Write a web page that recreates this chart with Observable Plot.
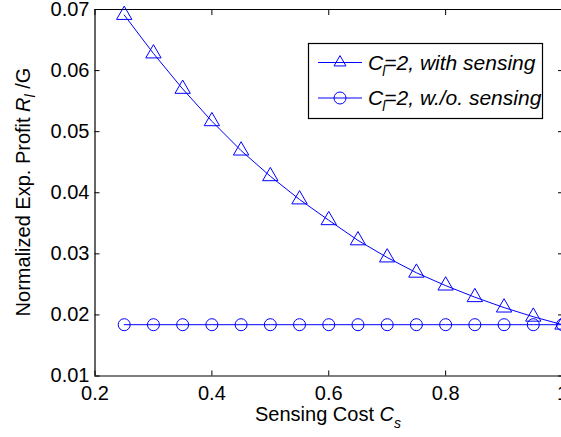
<!DOCTYPE html>
<html>
<head>
<meta charset="utf-8">
<script src="https://cdn.jsdelivr.net/npm/d3@7"></script>
<script src="https://cdn.jsdelivr.net/npm/@observablehq/plot@0.6"></script>
<style>
  html, body { margin: 0; padding: 0; background: #fff; }
  #chart { width: 561px; height: 437px; overflow: hidden; }
</style>
</head>
<body>
<div id="chart"></div>
<script>
// Data
const sensingCost = [0.25, 0.30, 0.35, 0.40, 0.45, 0.50, 0.55, 0.60, 0.65, 0.70, 0.75, 0.80, 0.85, 0.90, 0.95, 1.00];
const withSensing = [0.0691, 0.0628, 0.0570, 0.0517, 0.0469, 0.0427, 0.0389, 0.0355, 0.0322, 0.0294, 0.0269, 0.0248, 0.0229, 0.0212, 0.0197, 0.0184];
const withoutSensing = [0.0184, 0.0184, 0.0184, 0.0184, 0.0184, 0.0184, 0.0184, 0.0184, 0.0184, 0.0184, 0.0184, 0.0184, 0.0184, 0.0184, 0.0184, 0.0184];
const xTicks = [0.2, 0.4, 0.6, 0.8, 1.0];
const yTicks = [0.01, 0.02, 0.03, 0.04, 0.05, 0.06, 0.07];
const legendLabels = ["=2, with sensing", "=2, w./o. sensing"];

const rows = sensingCost.map((c, i) => ({c, w: withSensing[i], wo: withoutSensing[i]}));
const blue = "#0000ff";
const font = "'Liberation Sans', Arial, Helvetica, sans-serif";

const plot = Plot.plot({
  width: 561,
  height: 437,
  marginLeft: 94.5,
  marginRight: -1,
  marginTop: 9,
  marginBottom: 61.5,
  style: {fontFamily: font, fontSize: "20px", background: "#fff", color: "#000"},
  x: {domain: [0.2, 1.0], range: [94.5, 562]},
  y: {domain: [0.01, 0.07], range: [375.5, 9]},
  marks: [
    Plot.ruleX([0.2], {stroke: "#000", strokeWidth: 1.2}),
    Plot.ruleY([0.01, 0.07], {stroke: "#000", strokeWidth: 1.2}),
    Plot.axisX(xTicks, {anchor: "bottom", tickSize: -5, tickPadding: 14.5, label: null,
      tickFormat: d => d === 1 ? "1" : d.toFixed(1), fontSize: 20}),
    Plot.axisX(xTicks, {anchor: "top", tickSize: -5, label: null, tickFormat: () => ""}),
    Plot.axisY(yTicks, {anchor: "left", tickSize: -5, tickPadding: 10.5, label: null,
      tickFormat: d3.format(".2f"), fontSize: 20}),
    Plot.axisY(yTicks, {anchor: "right", tickSize: -5, label: null, tickFormat: () => ""}),
    Plot.line(rows, {x: "c", y: "wo", stroke: blue, strokeWidth: 1}),
    Plot.line(rows, {x: "c", y: "w", stroke: blue, strokeWidth: 1}),
    Plot.dot(rows, {x: "c", y: "w", symbol: "triangle", r: 5.7, stroke: blue, fill: "none", strokeWidth: 1}),
    Plot.dot(rows, {x: "c", y: "wo", symbol: "circle", r: 6, stroke: blue, fill: "none", strokeWidth: 1})
  ]
});
document.getElementById("chart").appendChild(plot);

const svg = d3.select(plot);

// Y axis label
const yl = svg.append("text")
  .attr("transform", "translate(30,192) rotate(-90)")
  .attr("text-anchor", "middle")
  .attr("font-family", font).attr("font-size", 20).attr("fill", "#000");
yl.append("tspan").text("Normalized Exp. Profit ");
yl.append("tspan").attr("font-style", "italic").text("R");
yl.append("tspan").attr("font-style", "italic").attr("font-size", 14).attr("dy", 5).text("l");
yl.append("tspan").attr("dy", -5).text(" /G");

// X axis label
const xl = svg.append("text")
  .attr("x", 328).attr("y", 421)
  .attr("text-anchor", "middle")
  .attr("font-family", font).attr("font-size", 20).attr("fill", "#000");
xl.append("tspan").text("Sensing Cost ");
xl.append("tspan").attr("font-style", "italic").text("C");
xl.append("tspan").attr("font-style", "italic").attr("font-size", 14).attr("dy", 7).text("s");

// Legend
const lg = svg.append("g");
lg.append("rect").attr("x", 308.5).attr("y", 43.5).attr("width", 234).attr("height", 75)
  .attr("fill", "#fff").attr("stroke", "#000").attr("stroke-width", 1.2);
const entries = [
  {y: 62.5, sym: d3.symbolTriangle2, size: Math.PI * 5.7 * 5.7, label: legendLabels[0]},
  {y: 98, sym: d3.symbolCircle, size: Math.PI * 6 * 6, label: legendLabels[1]}
];
entries.forEach(e => {
  lg.append("line").attr("x1", 318).attr("x2", 362).attr("y1", e.y).attr("y2", e.y)
    .attr("stroke", blue).attr("stroke-width", 1);
  lg.append("path").attr("d", d3.symbol(e.sym, e.size)())
    .attr("transform", `translate(340,${e.y})`)
    .attr("fill", "none").attr("stroke", blue).attr("stroke-width", 1);
  const t = lg.append("text").attr("x", 368).attr("y", e.y + 7)
    .attr("text-anchor", "start")
    .attr("font-family", font).attr("font-size", 21).attr("font-style", "italic").attr("fill", "#000");
  t.append("tspan").text("C");
  t.append("tspan").attr("font-size", 14).attr("dy", 6).attr("dx", -1).text("l");
  t.append("tspan").attr("dy", -6).attr("dx", -1).text(e.label);
});
</script>
</body>
</html>
